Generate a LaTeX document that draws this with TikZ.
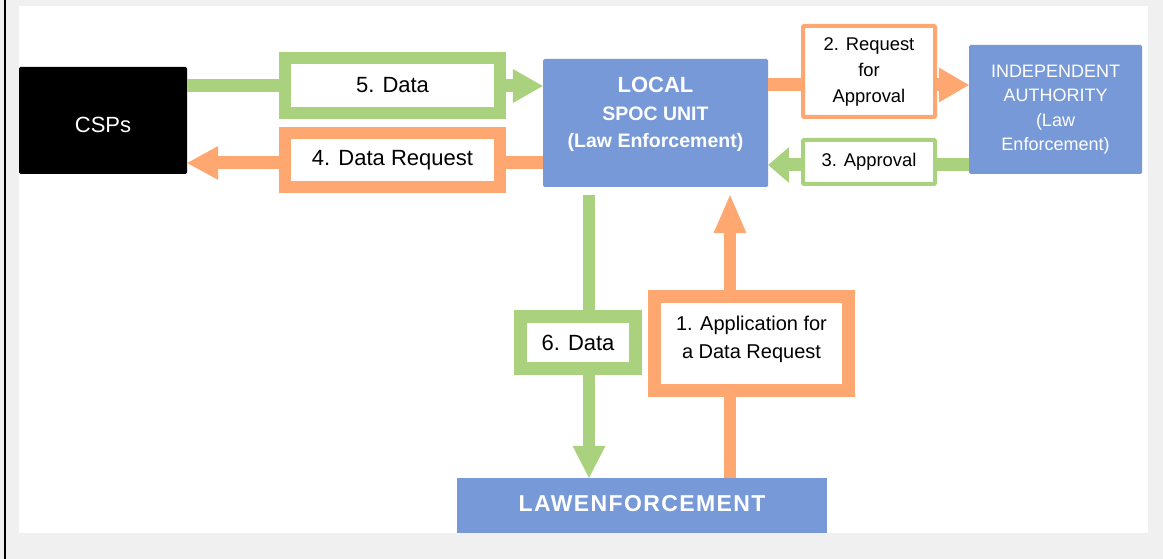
\documentclass[tikz,border=0pt]{standalone}
\usepackage{fontspec}
\setmainfont{Liberation Sans}
\newfontfamily\lawfont[LetterSpace=6]{Liberation Sans}
\usetikzlibrary{arrows.meta}
\definecolor{gbg}{RGB}{240,240,240}
\definecolor{lgreen}{RGB}{169,209,126}
\definecolor{lorange}{RGB}{255,167,112}
\definecolor{lblue}{RGB}{119,153,215}
\begin{document}
\begin{tikzpicture}[x=1pt,y=-1pt,
  mainbox/.style={fill=lblue, draw=none, inner sep=0pt, text=white, align=center, rounded corners=1.5pt},
  framebox/.style={fill=white, inner sep=0pt, align=center, text=black, line join=miter},
  gframe/.style={framebox, draw=lgreen},
  oframe/.style={framebox, draw=lorange},
  gline/.style={draw=lgreen, line width=13pt},
  oline/.style={draw=lorange, line width=13pt},
  bigfont/.style={font=\fontsize{22}{26}\selectfont},
  midfont/.style={font=\fontsize{18.4}{26}\selectfont}
]
\useasboundingbox (0,0) rectangle (1163,559);
\fill[gbg] (0,0) rectangle (1163,559);
\fill[white] (19,6) rectangle (1148,533);
\fill[black] (4,0) rectangle (6,559);

% main boxes
\node[mainbox, fill=black, minimum width=168pt, minimum height=107pt, bigfont] (CSPs) at (103,120.5) {\raisebox{-4pt}[\height][\depth]{CSPs}};
\node[mainbox, minimum width=225pt, minimum height=128pt] (LOCAL) at (655.5,123)
  {\raisebox{8pt}[\height][\depth]{\fontsize{19.5}{27.5}\selectfont\bfseries\begin{tabular}{@{}c@{}}{\fontsize{22}{27.5}\selectfont LOCAL}\\SPOC UNIT\\(Law Enforcement)\end{tabular}}};
\node[mainbox, minimum width=173pt, minimum height=129pt, font=\fontsize{18}{24.5}\selectfont] (IA) at (1055.5,109.5)
  {INDEPENDENT\\AUTHORITY\\(Law\\Enforcement)};
\node[mainbox, rounded corners=0pt, minimum width=370pt, minimum height=55pt] (LAW) at (642,505.5)
  {\raisebox{2pt}[\height][\depth]{\fontsize{23}{27}\selectfont\lawfont\bfseries LAWENFORCEMENT}};

% label boxes
\node[gframe, line width=12pt, minimum width=215pt, minimum height=55pt, bigfont] (d5) at (392.5,85.5) {5. Data};
\node[oframe, line width=12pt, minimum width=215pt, minimum height=54pt, bigfont] (d4) at (392.5,160) {4. Data Request};
\node[oframe, line width=4pt, rounded corners=1pt, minimum width=132pt, minimum height=91pt, midfont] (d2) at (869,71.5) {2. Request\\for\\Approval};
\node[gframe, line width=4pt, rounded corners=1pt, minimum width=132pt, minimum height=44pt, midfont] (d3) at (869,162) {3. Approval};
\node[gframe, line width=13pt, minimum width=115pt, minimum height=52pt, bigfont] (d6) at (578,342.5) {6. Data};
\node[oframe, line width=13pt, minimum width=194pt, minimum height=94pt] (d1) at (751.5,343.5)
  {\raisebox{5pt}[\height][\depth]{\fontsize{20}{28}\selectfont\begin{tabular}{@{}c@{}}1. Application for\\a Data Request\end{tabular}}};

% connectors
\draw[gline] (CSPs.east |- 0,86) -- (d5.west |- 0,86);
\draw[gline, -{Triangle[width=34pt,length=30pt,line width=0pt]}] (d5.east |- 0,86) -- (LOCAL.west |- 0,86);

\draw[oline] (LOCAL.west |- 0,163) -- (d4.east |- 0,163);
\draw[oline, -{Triangle[width=34pt,length=31pt,line width=0pt]}] (d4.west |- 0,163) -- (CSPs.east |- 0,163);

\draw[oline] (LOCAL.east |- 0,85) -- (d2.west |- 0,85);
\draw[oline, -{Triangle[width=35pt,length=30pt,line width=0pt]}] (d2.east |- 0,85) -- (IA.west |- 0,85);

\draw[gline] (IA.west |- 0,165) -- (d3.east |- 0,165);
\draw[gline, -{Triangle[width=36pt,length=21pt,line width=0pt]}] (d3.west |- 0,165) -- (LOCAL.east |- 0,165);

\draw[gline, line width=12pt] ([yshift=-8pt]LOCAL.south -| 589,0) -- (d6.north -| 589,0);
\draw[gline, line width=12pt, -{Triangle[width=33pt,length=32pt,line width=0pt]}] (d6.south -| 589,0) -- (LAW.north -| 589,0);

\draw[oline, line width=12pt] (LAW.north -| 730,0) -- (d1.south -| 730,0);
\draw[oline, line width=12pt, -{Triangle[width=33pt,length=38pt,line width=0pt]}] (d1.north -| 730,0) -- ([yshift=-8pt]LOCAL.south -| 730,0);
\end{tikzpicture}
\end{document}
